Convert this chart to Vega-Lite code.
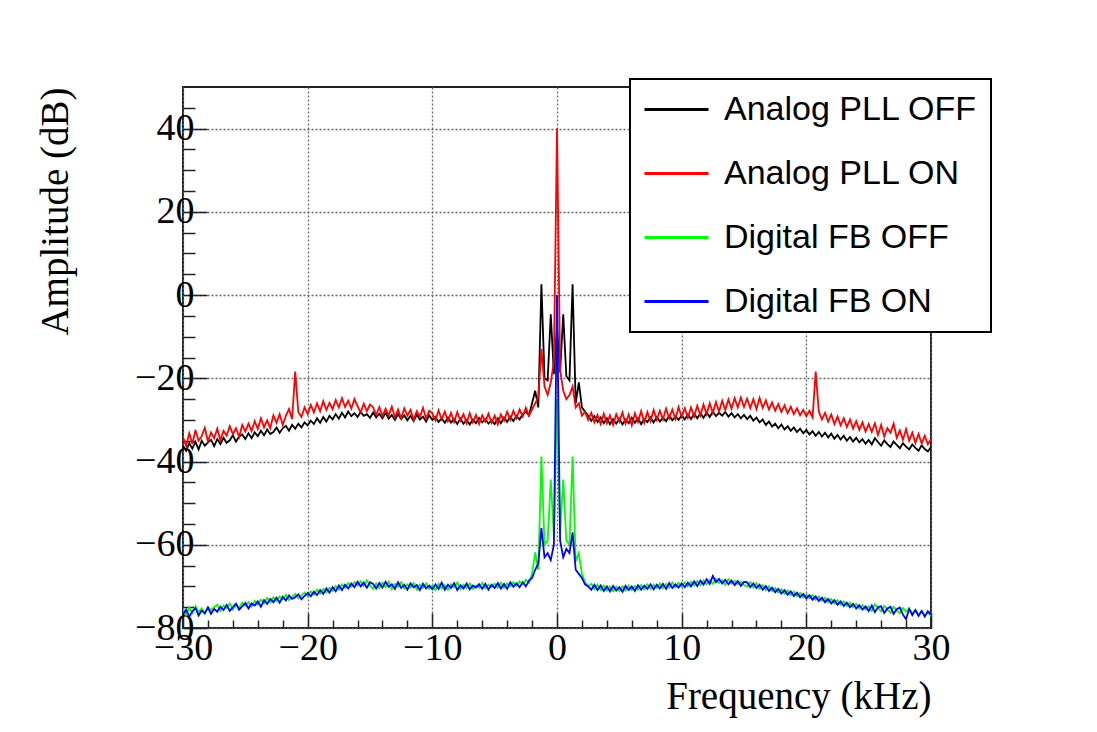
{
"$schema": "https://vega.github.io/schema/vega-lite/v6.json",
"width": 748, "height": 541,
"autosize": {"type": "none"},
"padding": {"left": 183, "top": 87, "right": 166, "bottom": 104},
"background": "white",
"config": {"view": {"stroke": "#222", "strokeWidth": 2}, "legend": {"strokeWidth": 2}},
"data": {"values": [
{"f":-30,"a":-36.2,"b":-34.1,"c":-75.4,"d":-76.8},
{"f":-29.75,"a":-37.4,"b":-36.3,"c":-76.9,"d":-75.6},
{"f":-29.5,"a":-35.6,"b":-33.2,"c":-75.1,"d":-77.3},
{"f":-29.25,"a":-36.9,"b":-35.8,"c":-76.4,"d":-76.0},
{"f":-29,"a":-35.3,"b":-32.4,"c":-74.8,"d":-75.2},
{"f":-28.75,"a":-37.1,"b":-35.0,"c":-76.2,"d":-77.0},
{"f":-28.5,"a":-35.0,"b":-33.9,"c":-75.3,"d":-75.8},
{"f":-28.25,"a":-36.2,"b":-31.9,"c":-76.6,"d":-76.4},
{"f":-28,"a":-35.4,"b":-35.2,"c":-74.9,"d":-75.1},
{"f":-27.75,"a":-34.8,"b":-33.0,"c":-75.7,"d":-76.6},
{"f":-27.5,"a":-36.3,"b":-34.4,"c":-75.0,"d":-75.4},
{"f":-27.25,"a":-34.6,"b":-32.1,"c":-74.4,"d":-76.1},
{"f":-27,"a":-35.8,"b":-34.9,"c":-75.9,"d":-74.9},
{"f":-26.75,"a":-34.3,"b":-32.6,"c":-74.6,"d":-75.7},
{"f":-26.5,"a":-35.5,"b":-33.8,"c":-75.2,"d":-74.5},
{"f":-26.25,"a":-34.9,"b":-31.5,"c":-74.1,"d":-75.9},
{"f":-26,"a":-33.7,"b":-33.4,"c":-75.6,"d":-75.0},
{"f":-25.75,"a":-35.2,"b":-32.0,"c":-74.3,"d":-74.2},
{"f":-25.5,"a":-34.0,"b":-34.1,"c":-75.1,"d":-75.6},
{"f":-25.25,"a":-33.5,"b":-31.2,"c":-73.9,"d":-74.8},
{"f":-25,"a":-34.6,"b":-32.8,"c":-74.7,"d":-74.0},
{"f":-24.75,"a":-33.2,"b":-30.9,"c":-73.8,"d":-75.3},
{"f":-24.5,"a":-34.4,"b":-32.7,"c":-74.9,"d":-74.1},
{"f":-24.25,"a":-33.0,"b":-30.3,"c":-73.5,"d":-74.6},
{"f":-24,"a":-33.9,"b":-32.2,"c":-74.4,"d":-73.6},
{"f":-23.75,"a":-32.6,"b":-29.6,"c":-73.2,"d":-74.9},
{"f":-23.5,"a":-33.7,"b":-31.8,"c":-74.1,"d":-73.3},
{"f":-23.25,"a":-32.3,"b":-30.1,"c":-72.8,"d":-74.2},
{"f":-23,"a":-33.4,"b":-32.0,"c":-73.9,"d":-73.0},
{"f":-22.75,"a":-32.9,"b":-28.9,"c":-72.6,"d":-73.8},
{"f":-22.5,"a":-31.8,"b":-30.7,"c":-73.5,"d":-72.7},
{"f":-22.25,"a":-33.1,"b":-28.6,"c":-72.4,"d":-73.9},
{"f":-22,"a":-32.0,"b":-31.2,"c":-73.1,"d":-72.5},
{"f":-21.75,"a":-31.4,"b":-29.0,"c":-72.0,"d":-73.4},
{"f":-21.5,"a":-32.6,"b":-27.4,"c":-73.3,"d":-72.2},
{"f":-21.25,"a":-31.2,"b":-29.8,"c":-72.5,"d":-73.0},
{"f":-21,"a":-32.1,"b":-18.4,"c":-71.8,"d":-72.6},
{"f":-20.75,"a":-30.9,"b":-28.1,"c":-72.9,"d":-71.9},
{"f":-20.5,"a":-31.8,"b":-29.3,"c":-72.2,"d":-73.1},
{"f":-20.25,"a":-30.6,"b":-27.0,"c":-71.5,"d":-72.3},
{"f":-20,"a":-31.3,"b":-28.6,"c":-72.4,"d":-71.6},
{"f":-19.75,"a":-30.2,"b":-26.4,"c":-71.2,"d":-72.4},
{"f":-19.5,"a":-31.0,"b":-28.2,"c":-72.0,"d":-71.3},
{"f":-19.25,"a":-29.6,"b":-26.0,"c":-70.8,"d":-72.1},
{"f":-19,"a":-30.7,"b":-27.9,"c":-71.7,"d":-70.9},
{"f":-18.75,"a":-29.3,"b":-25.5,"c":-70.6,"d":-71.8},
{"f":-18.5,"a":-30.4,"b":-27.6,"c":-71.4,"d":-70.5},
{"f":-18.25,"a":-29.0,"b":-25.9,"c":-70.3,"d":-71.5},
{"f":-18,"a":-29.9,"b":-27.4,"c":-71.1,"d":-70.2},
{"f":-17.75,"a":-28.6,"b":-25.2,"c":-69.9,"d":-71.2},
{"f":-17.5,"a":-29.7,"b":-27.0,"c":-70.8,"d":-69.8},
{"f":-17.25,"a":-28.3,"b":-24.8,"c":-69.5,"d":-70.9},
{"f":-17,"a":-29.4,"b":-26.9,"c":-70.4,"d":-69.6},
{"f":-16.75,"a":-28.0,"b":-25.4,"c":-69.2,"d":-70.5},
{"f":-16.5,"a":-29.1,"b":-27.3,"c":-70.1,"d":-69.3},
{"f":-16.25,"a":-28.4,"b":-25.0,"c":-69.0,"d":-70.2},
{"f":-16,"a":-29.3,"b":-26.7,"c":-69.8,"d":-68.9},
{"f":-15.75,"a":-28.1,"b":-28.2,"c":-68.8,"d":-70.0},
{"f":-15.5,"a":-29.0,"b":-26.1,"c":-69.9,"d":-69.1},
{"f":-15.25,"a":-28.6,"b":-27.9,"c":-68.6,"d":-70.3},
{"f":-15,"a":-29.5,"b":-26.3,"c":-69.7,"d":-69.0},
{"f":-14.75,"a":-28.2,"b":-27.0,"c":-70.6,"d":-69.4},
{"f":-14.5,"a":-29.4,"b":-28.8,"c":-69.3,"d":-70.5},
{"f":-14.25,"a":-28.5,"b":-26.9,"c":-70.4,"d":-69.2},
{"f":-14,"a":-29.6,"b":-29.1,"c":-69.1,"d":-70.3},
{"f":-13.75,"a":-28.3,"b":-27.3,"c":-70.2,"d":-68.9},
{"f":-13.5,"a":-29.7,"b":-28.9,"c":-68.9,"d":-70.1},
{"f":-13.25,"a":-28.8,"b":-26.8,"c":-70.7,"d":-69.5},
{"f":-13,"a":-30.0,"b":-29.4,"c":-69.4,"d":-70.6},
{"f":-12.75,"a":-28.6,"b":-27.5,"c":-70.1,"d":-69.0},
{"f":-12.5,"a":-29.8,"b":-29.6,"c":-69.0,"d":-70.4},
{"f":-12.25,"a":-28.9,"b":-27.2,"c":-70.5,"d":-69.6},
{"f":-12,"a":-30.1,"b":-29.0,"c":-69.5,"d":-70.8},
{"f":-11.75,"a":-29.0,"b":-27.6,"c":-70.3,"d":-69.3},
{"f":-11.5,"a":-30.3,"b":-30.0,"c":-69.2,"d":-70.2},
{"f":-11.25,"a":-28.7,"b":-27.9,"c":-70.8,"d":-69.7},
{"f":-11,"a":-29.9,"b":-29.3,"c":-69.6,"d":-70.9},
{"f":-10.75,"a":-29.2,"b":-27.1,"c":-70.4,"d":-69.4},
{"f":-10.5,"a":-30.4,"b":-29.7,"c":-69.3,"d":-70.5},
{"f":-10.25,"a":-28.9,"b":-27.8,"c":-70.6,"d":-69.8},
{"f":-10,"a":-30.0,"b":-28.4,"c":-69.8,"d":-70.7},
{"f":-9.75,"a":-29.3,"b":-30.1,"c":-70.9,"d":-69.5},
{"f":-9.5,"a":-30.5,"b":-27.7,"c":-69.4,"d":-70.6},
{"f":-9.25,"a":-29.6,"b":-29.9,"c":-70.5,"d":-69.1},
{"f":-9,"a":-30.7,"b":-28.0,"c":-69.7,"d":-70.8},
{"f":-8.75,"a":-29.4,"b":-30.3,"c":-70.8,"d":-69.6},
{"f":-8.5,"a":-30.6,"b":-28.3,"c":-69.5,"d":-70.4},
{"f":-8.25,"a":-29.8,"b":-30.5,"c":-70.2,"d":-69.2},
{"f":-8,"a":-31.0,"b":-28.1,"c":-69.1,"d":-70.9},
{"f":-7.75,"a":-29.7,"b":-30.2,"c":-70.7,"d":-69.7},
{"f":-7.5,"a":-30.9,"b":-28.6,"c":-69.6,"d":-70.5},
{"f":-7.25,"a":-30.0,"b":-30.8,"c":-70.4,"d":-69.3},
{"f":-7,"a":-31.1,"b":-28.4,"c":-69.3,"d":-70.7},
{"f":-6.75,"a":-29.9,"b":-30.6,"c":-70.6,"d":-69.8},
{"f":-6.5,"a":-30.8,"b":-28.8,"c":-69.8,"d":-70.3},
{"f":-6.25,"a":-29.5,"b":-31.0,"c":-70.3,"d":-69.5},
{"f":-6,"a":-30.6,"b":-28.9,"c":-69.2,"d":-70.6},
{"f":-5.75,"a":-29.8,"b":-30.4,"c":-70.5,"d":-69.4},
{"f":-5.5,"a":-30.9,"b":-28.5,"c":-69.6,"d":-70.8},
{"f":-5.25,"a":-30.1,"b":-30.7,"c":-70.1,"d":-69.6},
{"f":-5,"a":-31.0,"b":-29.0,"c":-69.4,"d":-70.4},
{"f":-4.75,"a":-29.6,"b":-31.1,"c":-70.3,"d":-69.2},
{"f":-4.5,"a":-30.8,"b":-28.7,"c":-69.1,"d":-70.5},
{"f":-4.25,"a":-29.4,"b":-30.2,"c":-70.4,"d":-69.4},
{"f":-4,"a":-30.5,"b":-28.0,"c":-69.3,"d":-70.6},
{"f":-3.75,"a":-29.2,"b":-30.0,"c":-70.0,"d":-69.0},
{"f":-3.5,"a":-30.3,"b":-27.8,"c":-69.0,"d":-70.1},
{"f":-3.25,"a":-29.0,"b":-29.6,"c":-69.8,"d":-69.3},
{"f":-3,"a":-29.9,"b":-27.5,"c":-68.8,"d":-70.2},
{"f":-2.75,"a":-28.6,"b":-29.2,"c":-69.5,"d":-69.0},
{"f":-2.5,"a":-28.0,"b":-27.1,"c":-68.4,"d":-70.0},
{"f":-2.25,"a":-28.9,"b":-29.0,"c":-69.2,"d":-68.6},
{"f":-2,"a":-26.0,"b":-27.5,"c":-67.0,"d":-68.0},
{"f":-1.75,"a":-23.0,"b":-26.0,"c":-61.8,"d":-66.0},
{"f":-1.5,"a":-27.0,"b":-24.5,"c":-66.0,"d":-64.5},
{"f":-1.25,"a":2.6,"b":-13.0,"c":-38.8,"d":-56.0},
{"f":-1,"a":-20.0,"b":-22.0,"c":-60.0,"d":-63.0},
{"f":-0.75,"a":-20.5,"b":-24.0,"c":-59.0,"d":-62.0},
{"f":-0.5,"a":-4.6,"b":-21.0,"c":-44.3,"d":-63.7},
{"f":-0.25,"a":-19.0,"b":-16.0,"c":-58.0,"d":-60.0},
{"f":0,"a":-8.0,"b":40.0,"c":-25.0,"d":0.0},
{"f":0.25,"a":-18.5,"b":-18.0,"c":-57.0,"d":-59.0},
{"f":0.5,"a":-4.6,"b":-23.0,"c":-44.3,"d":-63.0},
{"f":0.75,"a":-19.5,"b":-25.0,"c":-59.0,"d":-61.0},
{"f":1,"a":-20.5,"b":-24.0,"c":-60.0,"d":-62.0},
{"f":1.25,"a":2.6,"b":-22.0,"c":-38.8,"d":-57.0},
{"f":1.5,"a":-26.0,"b":-27.0,"c":-64.0,"d":-66.0},
{"f":1.75,"a":-21.0,"b":-26.0,"c":-62.0,"d":-67.0},
{"f":2,"a":-27.0,"b":-29.0,"c":-67.0,"d":-68.0},
{"f":2.25,"a":-28.0,"b":-28.0,"c":-69.0,"d":-69.5},
{"f":2.5,"a":-29.0,"b":-30.0,"c":-70.0,"d":-70.0},
{"f":2.75,"a":-30.2,"b":-28.3,"c":-69.4,"d":-70.8},
{"f":3,"a":-29.1,"b":-30.6,"c":-70.7,"d":-69.6},
{"f":3.25,"a":-30.5,"b":-28.8,"c":-69.6,"d":-70.9},
{"f":3.5,"a":-29.4,"b":-31.0,"c":-70.9,"d":-69.8},
{"f":3.75,"a":-30.8,"b":-28.5,"c":-69.8,"d":-71.1},
{"f":4,"a":-29.6,"b":-30.8,"c":-71.0,"d":-70.0},
{"f":4.25,"a":-31.0,"b":-28.9,"c":-70.0,"d":-71.2},
{"f":4.5,"a":-29.8,"b":-31.2,"c":-71.2,"d":-69.9},
{"f":4.75,"a":-30.9,"b":-28.6,"c":-70.1,"d":-71.0},
{"f":5,"a":-29.7,"b":-30.4,"c":-71.1,"d":-70.2},
{"f":5.25,"a":-31.1,"b":-28.2,"c":-70.0,"d":-71.3},
{"f":5.5,"a":-29.9,"b":-30.9,"c":-71.0,"d":-69.9},
{"f":5.75,"a":-30.8,"b":-28.7,"c":-69.8,"d":-70.9},
{"f":6,"a":-29.5,"b":-31.3,"c":-70.9,"d":-70.0},
{"f":6.25,"a":-30.7,"b":-28.4,"c":-69.9,"d":-71.1},
{"f":6.5,"a":-29.6,"b":-30.5,"c":-70.8,"d":-69.7},
{"f":6.75,"a":-31.0,"b":-27.9,"c":-69.7,"d":-70.8},
{"f":7,"a":-29.8,"b":-30.7,"c":-70.7,"d":-69.8},
{"f":7.25,"a":-30.5,"b":-28.1,"c":-69.5,"d":-70.6},
{"f":7.5,"a":-29.4,"b":-30.3,"c":-70.6,"d":-69.5},
{"f":7.75,"a":-30.6,"b":-27.6,"c":-69.6,"d":-70.7},
{"f":8,"a":-29.3,"b":-30.0,"c":-70.4,"d":-69.6},
{"f":8.25,"a":-30.4,"b":-27.8,"c":-69.3,"d":-70.5},
{"f":8.5,"a":-29.5,"b":-29.9,"c":-70.5,"d":-69.4},
{"f":8.75,"a":-30.3,"b":-27.3,"c":-69.4,"d":-70.6},
{"f":9,"a":-29.0,"b":-29.6,"c":-70.3,"d":-69.2},
{"f":9.25,"a":-30.1,"b":-27.5,"c":-69.1,"d":-70.4},
{"f":9.5,"a":-29.2,"b":-29.8,"c":-70.2,"d":-69.5},
{"f":9.75,"a":-30.0,"b":-26.9,"c":-69.2,"d":-70.3},
{"f":10,"a":-28.9,"b":-29.3,"c":-70.1,"d":-69.3},
{"f":10.25,"a":-29.9,"b":-27.2,"c":-69.0,"d":-70.2},
{"f":10.5,"a":-28.7,"b":-29.5,"c":-70.0,"d":-69.1},
{"f":10.75,"a":-29.8,"b":-27.0,"c":-68.9,"d":-70.0},
{"f":11,"a":-28.5,"b":-29.2,"c":-69.8,"d":-68.8},
{"f":11.25,"a":-29.6,"b":-26.6,"c":-68.7,"d":-69.9},
{"f":11.5,"a":-28.4,"b":-28.9,"c":-69.7,"d":-68.6},
{"f":11.75,"a":-29.5,"b":-26.3,"c":-68.6,"d":-69.6},
{"f":12,"a":-28.2,"b":-28.6,"c":-69.5,"d":-68.3},
{"f":12.25,"a":-29.3,"b":-26.0,"c":-68.4,"d":-69.4},
{"f":12.5,"a":-28.0,"b":-28.3,"c":-69.4,"d":-67.5},
{"f":12.75,"a":-29.1,"b":-25.7,"c":-68.2,"d":-69.0},
{"f":13,"a":-28.3,"b":-28.0,"c":-69.2,"d":-68.2},
{"f":13.25,"a":-29.0,"b":-25.4,"c":-68.5,"d":-69.3},
{"f":13.5,"a":-28.1,"b":-27.6,"c":-69.6,"d":-68.4},
{"f":13.75,"a":-29.2,"b":-25.1,"c":-68.3,"d":-69.5},
{"f":14,"a":-28.4,"b":-27.3,"c":-69.3,"d":-68.6},
{"f":14.25,"a":-29.4,"b":-24.8,"c":-68.7,"d":-69.7},
{"f":14.5,"a":-28.6,"b":-27.0,"c":-69.5,"d":-68.7},
{"f":14.75,"a":-29.6,"b":-24.6,"c":-68.9,"d":-69.9},
{"f":15,"a":-28.8,"b":-26.9,"c":-69.7,"d":-68.9},
{"f":15.25,"a":-29.8,"b":-24.9,"c":-70.1,"d":-69.0},
{"f":15.5,"a":-29.0,"b":-27.2,"c":-69.0,"d":-70.2},
{"f":15.75,"a":-30.2,"b":-25.0,"c":-70.3,"d":-69.3},
{"f":16,"a":-29.4,"b":-27.4,"c":-69.3,"d":-70.4},
{"f":16.25,"a":-30.6,"b":-24.7,"c":-70.6,"d":-69.6},
{"f":16.5,"a":-29.9,"b":-27.1,"c":-69.7,"d":-70.8},
{"f":16.75,"a":-31.2,"b":-25.3,"c":-70.9,"d":-69.9},
{"f":17,"a":-30.4,"b":-27.5,"c":-70.0,"d":-71.1},
{"f":17.25,"a":-31.6,"b":-25.8,"c":-71.2,"d":-70.3},
{"f":17.5,"a":-30.9,"b":-27.8,"c":-70.4,"d":-71.4},
{"f":17.75,"a":-32.0,"b":-26.2,"c":-71.5,"d":-70.6},
{"f":18,"a":-31.1,"b":-28.1,"c":-70.7,"d":-71.7},
{"f":18.25,"a":-32.3,"b":-26.5,"c":-71.8,"d":-70.9},
{"f":18.5,"a":-31.5,"b":-28.4,"c":-71.0,"d":-72.0},
{"f":18.75,"a":-32.6,"b":-26.8,"c":-72.1,"d":-71.2},
{"f":19,"a":-31.8,"b":-28.6,"c":-71.3,"d":-72.3},
{"f":19.25,"a":-32.9,"b":-27.2,"c":-72.4,"d":-71.5},
{"f":19.5,"a":-32.1,"b":-28.9,"c":-71.6,"d":-72.6},
{"f":19.75,"a":-33.2,"b":-27.6,"c":-72.7,"d":-71.8},
{"f":20,"a":-32.4,"b":-29.1,"c":-71.9,"d":-72.9},
{"f":20.25,"a":-33.5,"b":-27.8,"c":-72.9,"d":-72.1},
{"f":20.5,"a":-32.7,"b":-29.4,"c":-72.1,"d":-73.2},
{"f":20.75,"a":-33.8,"b":-18.4,"c":-73.2,"d":-72.4},
{"f":21,"a":-32.9,"b":-28.0,"c":-72.4,"d":-73.5},
{"f":21.25,"a":-34.0,"b":-29.9,"c":-73.5,"d":-72.7},
{"f":21.5,"a":-33.1,"b":-28.3,"c":-72.7,"d":-73.8},
{"f":21.75,"a":-34.2,"b":-30.4,"c":-73.8,"d":-73.0},
{"f":22,"a":-33.3,"b":-28.7,"c":-73.0,"d":-74.1},
{"f":22.25,"a":-34.5,"b":-31.0,"c":-74.1,"d":-73.3},
{"f":22.5,"a":-33.6,"b":-29.2,"c":-73.3,"d":-74.4},
{"f":22.75,"a":-34.7,"b":-31.3,"c":-74.4,"d":-73.6},
{"f":23,"a":-33.8,"b":-29.6,"c":-73.6,"d":-74.7},
{"f":23.25,"a":-35.0,"b":-31.7,"c":-74.7,"d":-73.9},
{"f":23.5,"a":-34.1,"b":-29.9,"c":-73.9,"d":-75.0},
{"f":23.75,"a":-35.2,"b":-32.1,"c":-75.0,"d":-74.2},
{"f":24,"a":-34.3,"b":-30.3,"c":-74.2,"d":-75.3},
{"f":24.25,"a":-35.4,"b":-32.4,"c":-75.3,"d":-74.5},
{"f":24.5,"a":-34.6,"b":-30.6,"c":-74.5,"d":-75.6},
{"f":24.75,"a":-35.7,"b":-32.8,"c":-75.6,"d":-74.8},
{"f":25,"a":-34.8,"b":-31.0,"c":-74.8,"d":-75.9},
{"f":25.25,"a":-35.9,"b":-32.9,"c":-75.9,"d":-74.6},
{"f":25.5,"a":-34.4,"b":-30.8,"c":-74.3,"d":-76.2},
{"f":25.75,"a":-35.3,"b":-33.6,"c":-75.1,"d":-75.0},
{"f":26,"a":-36.2,"b":-31.2,"c":-76.0,"d":-74.8},
{"f":26.25,"a":-34.9,"b":-34.0,"c":-74.7,"d":-76.4},
{"f":26.5,"a":-35.8,"b":-32.0,"c":-75.5,"d":-75.3},
{"f":26.75,"a":-36.5,"b":-33.1,"c":-76.3,"d":-74.9},
{"f":27,"a":-35.2,"b":-30.9,"c":-74.9,"d":-76.6},
{"f":27.25,"a":-36.0,"b":-34.3,"c":-75.8,"d":-75.5},
{"f":27.5,"a":-36.8,"b":-32.5,"c":-76.5,"d":-75.1},
{"f":27.75,"a":-35.6,"b":-34.8,"c":-75.2,"d":-76.8},
{"f":28,"a":-36.4,"b":-32.2,"c":-76.1,"d":-77.9},
{"f":28.25,"a":-37.1,"b":-35.0,"c":-75.4,"d":-75.4},
{"f":28.5,"a":-35.9,"b":-33.1,"c":-76.6,"d":-76.9},
{"f":28.75,"a":-36.7,"b":-35.5,"c":-75.7,"d":-75.7},
{"f":29,"a":-37.4,"b":-33.4,"c":-76.9,"d":-77.1},
{"f":29.25,"a":-36.1,"b":-35.7,"c":-75.9,"d":-75.9},
{"f":29.5,"a":-37.0,"b":-33.8,"c":-77.0,"d":-77.3},
{"f":29.75,"a":-37.6,"b":-35.9,"c":-76.2,"d":-76.0},
{"f":30,"a":-36.5,"b":-34.6,"c":-77.2,"d":-76.8}
]},
"transform": [{"fold": ["a","b","c","d"], "as": ["s","v"]}],
"layer": [
{"mark": {"type": "line", "strokeWidth": 1.8, "clip": true},
 "encoding": {
  "x": {"field": "f", "type": "quantitative",
        "scale": {"domain": [-30, 30], "nice": false, "zero": false},
        "axis": {"orient": "bottom", "values": [-30,-20,-10,0,10,20,30], "title": "Frequency (kHz)",
                 "titleFont": "Liberation Serif", "titleFontSize": 39, "titleFontWeight": "normal", "titleColor": "black",
                 "titleAnchor": "end", "titlePadding": 10,
                 "labelFont": "Liberation Serif", "labelFontSize": 38, "labelColor": "black", "labelPadding": 16, "labelFlush": false, "labelOverlap": false,
                 "tickSize": -15, "tickColor": "#222", "tickWidth": 1.5, "domain": false,
                 "grid": true, "gridColor": "#666", "gridDash": [2,2], "gridWidth": 1.3}},
  "y": {"field": "v", "type": "quantitative",
        "scale": {"domain": [-80, 50], "nice": false, "zero": false},
        "axis": {"orient": "left", "values": [-80,-60,-40,-20,0,20,40], "title": "Amplitude (dB)",
                 "titleFont": "Liberation Serif", "titleFontSize": 39, "titleFontWeight": "normal", "titleColor": "black",
                 "titleAnchor": "end", "titlePadding": 59,
                 "labelFont": "Liberation Serif", "labelFontSize": 38, "labelColor": "black", "labelPadding": 13, "labelFlush": false, "labelOverlap": false,
                 "tickSize": -24, "tickColor": "#222", "tickWidth": 1.5, "domain": false,
                 "grid": true, "gridColor": "#666", "gridDash": [2,2], "gridWidth": 1.3}},
  "color": {"field": "s", "type": "nominal",
            "scale": {"domain": ["a","b","c","d"], "range": ["#000000","#ff0000","#00ff00","#0000ff"]},
            "legend": {"orient": "none", "legendX": 447, "legendY": -8, "title": null,
                       "symbolType": "stroke", "symbolSize": 4096, "symbolStrokeWidth": 3, "symbolOffset": 0,
                       "clipHeight": 35,
                       "labelFont": "Liberation Sans", "labelFontSize": 34, "labelColor": "black", "labelLimit": 400,
                       "labelExpr": "{'a':'Analog PLL OFF','b':'Analog PLL ON','c':'Digital FB OFF','d':'Digital FB ON'}[datum.label]",
                       "labelOffset": 14, "rowPadding": 29, "padding": 13,
                       "strokeColor": "black", "fillColor": "white", "cornerRadius": 0}}
 }},
{"mark": {"type": "line", "opacity": 0},
 "encoding": {
  "x": {"field": "f", "type": "quantitative",
        "axis": {"orient": "bottom", "values": [-28,-26,-24,-22,-18,-16,-14,-12,-8,-6,-4,-2,2,4,6,8,12,14,16,18,22,24,26,28],
                 "labels": false, "title": null, "grid": false, "domain": false,
                 "tickSize": -8, "tickColor": "#222", "tickWidth": 1.5}},
  "y": {"field": "v", "type": "quantitative",
        "axis": {"orient": "left", "values": [-75,-70,-65,-55,-50,-45,-35,-30,-25,-15,-10,-5,5,10,15,25,30,35,45],
                 "labels": false, "title": null, "grid": false, "domain": false,
                 "tickSize": -12, "tickColor": "#222", "tickWidth": 1.5}}
 }}
],
"resolve": {"axis": {"x": "independent", "y": "independent"}}
}
